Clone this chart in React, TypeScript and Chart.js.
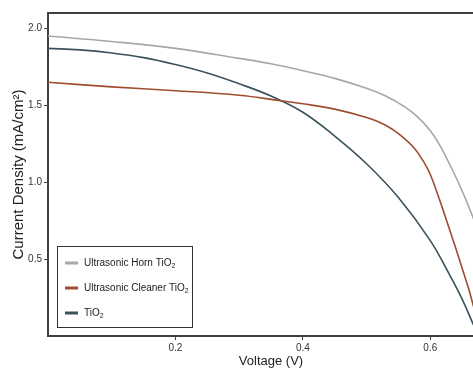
import React, { useEffect, useRef } from "react";
import { Chart, registerables } from "chart.js";

Chart.register(...registerables);

const hornX = [0, 0.1, 0.2, 0.3, 0.35, 0.4, 0.45, 0.5, 0.53, 0.56, 0.58, 0.6, 0.615, 0.63, 0.645, 0.656, 0.668];
const hornY = [1.95, 1.915, 1.87, 1.805, 1.77, 1.725, 1.675, 1.61, 1.56, 1.49, 1.425, 1.335, 1.24, 1.12, 0.99, 0.885, 0.76];

const cleanerX = [0, 0.1, 0.2, 0.3, 0.365, 0.4, 0.45, 0.5, 0.53, 0.555, 0.575, 0.59, 0.6, 0.61, 0.62, 0.63, 0.64, 0.65, 0.66, 0.668];
const cleanerY = [1.65, 1.62, 1.595, 1.565, 1.53, 1.51, 1.475, 1.42, 1.37, 1.3, 1.22, 1.13, 1.05, 0.94, 0.82, 0.695, 0.57, 0.44, 0.31, 0.19];

const tioX = [0, 0.05, 0.1, 0.15, 0.2, 0.25, 0.3, 0.35, 0.4, 0.45, 0.5, 0.55, 0.6, 0.63, 0.65, 0.668];
const tioY = [1.87, 1.86, 1.84, 1.81, 1.765, 1.71, 1.64, 1.56, 1.455, 1.3, 1.12, 0.9, 0.62, 0.4, 0.24, 0.07];

const seriesNames = ["Ultrasonic Horn TiO", "Ultrasonic Cleaner TiO", "TiO"];
const seriesColors = ["#a8a8a1", "#9e4d2f", "#3a525c"];

const xTicks = [0.2, 0.4, 0.6];
const yTicks = [0.5, 1.0, 1.5, 2.0];

const FONT = "'Liberation Sans', Arial, sans-serif";
const AXIS = "#404040";

const frameAndLegend = {
  id: "frameAndLegend",
  afterDraw(chart: any) {
    const { ctx, chartArea } = chart;
    ctx.save();
    ctx.strokeStyle = AXIS;
    ctx.lineWidth = 2;
    ctx.beginPath();
    ctx.moveTo(chartArea.left - 1, chartArea.top);
    ctx.lineTo(chartArea.right, chartArea.top);
    ctx.stroke();

    const bx = 57.5, by = 246.5, bw = 135, bh = 81;
    ctx.fillStyle = "#ffffff";
    ctx.fillRect(bx, by, bw, bh);
    ctx.strokeStyle = "#333333";
    ctx.lineWidth = 1;
    ctx.strokeRect(bx, by, bw, bh);
    const rows = [263, 288, 313];
    rows.forEach((y, i) => {
      ctx.strokeStyle = seriesColors[i];
      ctx.lineWidth = 3;
      ctx.beginPath();
      ctx.moveTo(65, y);
      ctx.lineTo(78, y);
      ctx.stroke();
      ctx.fillStyle = "#222222";
      ctx.font = `10px ${FONT}`;
      ctx.textBaseline = "middle";
      ctx.textAlign = "left";
      ctx.fillText(seriesNames[i], 84, y);
      const w = ctx.measureText(seriesNames[i]).width;
      ctx.font = `7px ${FONT}`;
      ctx.fillText("2", 84 + w, y + 3);
    });
    ctx.restore();
  },
};

export default function App() {
  const ref = useRef<HTMLCanvasElement | null>(null);
  useEffect(() => {
    if (!ref.current) return;
    const toPts = (xs: number[], ys: number[]) => xs.map((x, i) => ({ x, y: ys[i] }));
    const chart = new Chart(ref.current, {
      type: "line",
      data: {
        datasets: [
          { label: seriesNames[0] + "2", data: toPts(hornX, hornY), borderColor: seriesColors[0] },
          { label: seriesNames[1] + "2", data: toPts(cleanerX, cleanerY), borderColor: seriesColors[1] },
          { label: seriesNames[2] + "2", data: toPts(tioX, tioY), borderColor: seriesColors[2] },
        ].map((d) => ({ ...d, borderWidth: 1.6, pointRadius: 0, tension: 0.4, fill: false })),
      },
      options: {
        animation: false,
        responsive: true,
        maintainAspectRatio: false,
        layout: { padding: { left: 0, top: 13, right: 6, bottom: 0 } },
        plugins: { legend: { display: false }, tooltip: { enabled: false } },
        scales: {
          x: {
            type: "linear",
            min: 0,
            max: 0.7,
            afterBuildTicks: (s: any) => { s.ticks = xTicks.map((v) => ({ value: v })); },
            afterFit: (s: any) => { s.height = 33; },
            ticks: { callback: (v: any) => Number(v).toFixed(1), color: "#333", font: { family: FONT, size: 10 }, padding: 2, maxRotation: 0 },
            grid: { drawOnChartArea: false, drawTicks: true, tickLength: 4, tickColor: AXIS, tickWidth: 1 },
            border: { display: true, color: AXIS, width: 2 },
            title: { display: true, text: "Voltage (V)", color: "#222", font: { family: FONT, size: 13 }, padding: 0 },
          },
          y: {
            type: "linear",
            min: 0,
            max: 2.1,
            afterBuildTicks: (s: any) => { s.ticks = yTicks.map((v) => ({ value: v })); },
            afterFit: (s: any) => { s.width = 48; },
            ticks: { callback: (v: any) => Number(v).toFixed(1), color: "#333", font: { family: FONT, size: 10 }, padding: 2 },
            grid: { drawOnChartArea: false, drawTicks: true, tickLength: 4, tickColor: AXIS, tickWidth: 1 },
            border: { display: true, color: AXIS, width: 2 },
            title: { display: true, text: "Current Density (mA/cm²)", color: "#222", font: { family: FONT, size: 15 }, padding: { top: 10, bottom: 0 } },
          },
        },
      },
      plugins: [frameAndLegend],
    });
    return () => chart.destroy();
  }, []);
  return (
    <div style={{ position: "fixed", left: 0, top: 0, width: 473, height: 369, overflow: "hidden", background: "#fff" }}>
      <div style={{ position: "relative", width: 500, height: 369 }}>
        <canvas ref={ref} />
      </div>
    </div>
  );
}
